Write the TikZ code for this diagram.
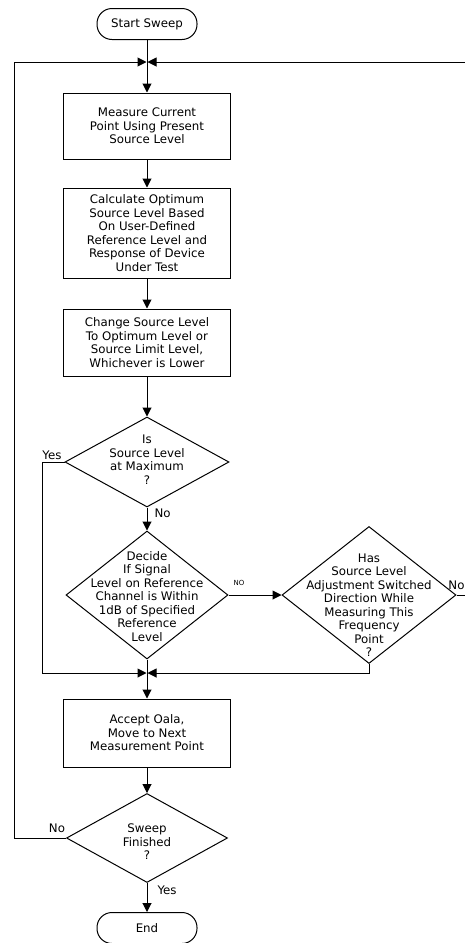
\documentclass[tikz,border=0pt]{standalone}
\usepackage{fontspec}
\setmainfont{DejaVu Sans}
\usetikzlibrary{arrows.meta,shapes.geometric}
\begin{document}
\begin{tikzpicture}[x=1pt,y=-1pt,
  line width=1pt,
  >={Triangle[length=9pt,width=9pt]},
  txt/.style={font=\fontsize{11.8}{13.5}\selectfont},
  procbox/.style={draw, rectangle, minimum width=167pt, inner sep=0pt, align=center, txt},
  termbox/.style={draw, rounded corners=15pt, minimum width=100pt, minimum height=31pt, inner sep=0pt, txt},
  decbox/.style={draw, diamond, inner sep=0pt},
  dectext/.style={align=center, inner sep=0pt, txt},
  lbl/.style={inner sep=0pt, txt},
  smalllbl/.style={inner sep=0pt, font=\fontsize{7}{8}\selectfont}]
\useasboundingbox (0,0) rectangle (465,943);

% terminals and boxes
\node[termbox] (start) at (147,24) {Start Sweep};
\coordinate (j1) at (147,62);
\node[procbox, minimum height=66pt] (b1) at (147,126) {Measure Current\\Point Using Present\\Source Level};
\node[procbox, minimum height=90pt] (b2) at (147,233) {Calculate Optimum\\Source Level Based\\On User-Defined\\Reference Level and\\Response of Device\\Under Test};
\node[procbox, minimum height=67pt] (b3) at (147,342.5) {Change Source Level\\To Optimum Level or\\Source Limit Level,\\Whichever is Lower};

% decisions
\node[decbox, minimum width=164pt, minimum height=90pt] (d1) at (147,462) {};
\node[dectext] (d1t) at (147,459.5) {Is\\Source Level\\at Maximum\\?};
\node[decbox, minimum width=162pt, minimum height=128pt] (d2) at (147,595) {};
\node[dectext] (d2t) at (147,596.5) {Decide\\If Signal\\Level on Reference\\Channel is Within\\1dB of Specified\\Reference\\Level};
\node[decbox, minimum width=174pt, minimum height=137pt] (d3) at (369,595) {};
\node[dectext] (d3t) at (369,605) {Has\\Source Level\\Adjustment Switched\\Direction While\\Measuring This\\Frequency\\Point\\?};
\coordinate (j2) at (147,673);
\node[procbox, minimum height=68pt] (b4) at (147,733) {Accept Oala,\\Move to Next\\Measurement Point};
\node[decbox, minimum width=161pt, minimum height=89pt] (d4) at (147,838) {};
\node[dectext] (d4t) at (147,842) {Sweep\\Finished\\?};
\node[termbox] (end) at (147,928) {End};

% labels
\node[lbl] (lyes1) at (52,455) {Yes};
\node[lbl, anchor=west] (lno1) at (154,513) {No};
\node[smalllbl] (lno2) at (239,583) {NO};
\node[lbl, anchor=east] (lno3) at (465,585) {No};
\node[lbl] (lno4) at (57,828) {No};
\node[lbl, anchor=west] (lyes2) at (157,890) {Yes};

% connectors
\draw[->] (start.south) -- (b1.north);
\draw[->] (b1.south) -- (b2.north);
\draw[->] (b2.south) -- (b3.north);
\draw[->] (b3.south) -- (d1.north);
\draw[->] (d1.south) -- (d2.north);
\draw[->] (d2.east) -- (d3.west);
\draw[->] (d2.south) -- (b4.north);
\draw[->] (b4.south) -- (d4.north);
\draw[->] (d4.south) -- (end.north);
% merge branches
\draw[->] (d1.west) -- (42,462) -- (42,673) -- ([xshift=-0.5pt]j2);
\draw[->] (d3.south) -- (369,673) -- ([xshift=0.5pt]j2);
% loop back
\draw[->] (d4.west) -- (14,838) -- (14,62) -- ([xshift=-0.5pt]j1);
\draw[->] (d3.east) -- (480,595) -- (480,62) -- ([xshift=0.5pt]j1);
\end{tikzpicture}
\end{document}
